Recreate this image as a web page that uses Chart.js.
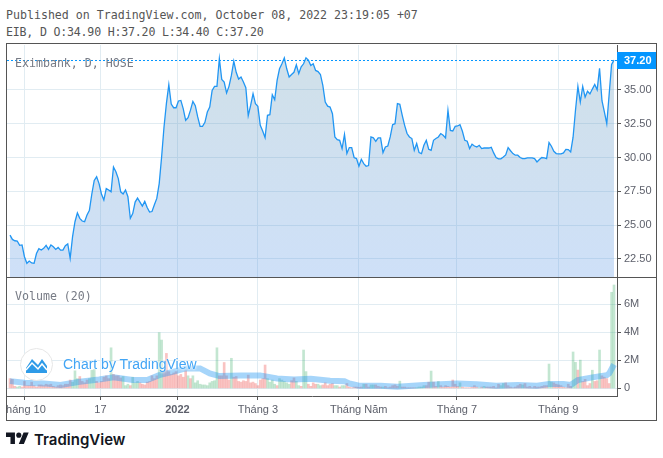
<!DOCTYPE html>
<html>
<head>
<meta charset="utf-8">
<title>EIB</title>
<script src="https://cdn.jsdelivr.net/npm/chart.js@4/dist/chart.umd.min.js"></script>
<style>
    html, body { margin: 0; padding: 0; background: #fff; }
    body { position: relative; width: 663px; height: 458px; overflow: hidden; }
    canvas { position: absolute; left: 7px; top: 44px; }
    .mono { position: absolute; font-family: "DejaVu Sans Mono", monospace; font-size: 11.6px; color: #555; white-space: pre; line-height: 14px; }
    .pane { color: #777b85; }
    #frame { position: absolute; left: 6px; top: 43px; width: 649px; height: 376px; border: 1px solid #555; }
    #attribution { position: absolute; left: 63px; top: 356px; font: 14px "Liberation Sans", sans-serif; color: #42a5f5; text-shadow: 0 0 3px #fff, 0 0 3px #fff; }
    #brand { position: absolute; left: 34px; top: 430px; font: 600 15px Inter, sans-serif; color: #131722; }
    svg { position: absolute; }
</style>
</head>
<body>
<div class="mono" style="left:6px;top:8px">Published on TradingView.com, October 08, 2022 23:19:05 +07</div>
<div class="mono" style="left:6px;top:25px;letter-spacing:-0.2px">EIB, D O:34.90 H:37.20 L:34.40 C:37.20</div>
<canvas id="chart" width="650" height="377"></canvas>
<div id="frame"></div>
<div class="mono pane" style="left:15px;top:56px">Eximbank, D, HOSE</div>
<div class="mono pane" style="left:15px;top:289px">Volume (20)</div>
<svg style="left:20px;top:348px" width="33" height="33" viewBox="0 0 33 33">
    <circle cx="16.5" cy="16.5" r="16" fill="#fff" stroke="#e6e6e6"></circle>
    <path d="M6 25V20L12 11L18 17L22 11L27 18V25Z" fill="#2e9be8"></path>
    <path d="M6 22L12 15L18 21L22 16L27 22" fill="none" stroke="#fff" stroke-width="1.5"></path>
</svg>
<div id="attribution">Chart by TradingView</div>
<svg style="left:6px;top:430px" width="23" height="18" viewBox="0 0 36 28">
    <path d="M14 22H7V11H0V4h14v18zM28 22h-8l7.5-18h8L28 22z" fill="#131722"></path>
    <circle cx="20" cy="8" r="4" fill="#131722"></circle>
</svg>
<div id="brand">TradingView</div>

<script>
const closes = [
    24.26, 23.94, 23.84, 23.82, 23.5, 23.53, 22.66, 22.17, 22.34, 22.2,
    22.17, 22.9, 23.25, 23.15, 23.28, 23.5, 23.2, 23.53, 23.4, 23.2,
    23.35, 23.15, 23.15, 23.47, 23.6, 22.54, 24.14, 25.25, 25.9, 25.5,
    25.3, 25.25, 25.74, 26.1, 27.3, 28.3, 28.57, 28.07, 27.3, 26.85,
    27.7, 27.6, 27.46, 29.3, 28.95, 28.44, 27.46, 27.3, 27.6, 27.1,
    25.5, 25.85, 26.7, 27.0, 26.7, 26.4, 26.75, 26.3, 25.96, 26.0,
    26.5, 26.97, 28.07, 30.04, 32.26, 34.0, 35.38, 33.95, 33.68, 33.68,
    34.18, 34.22, 33.6, 32.75, 32.95, 33.5, 34.15, 33.83, 33.0, 32.3,
    32.3, 32.6, 33.36, 33.73, 34.96, 35.26, 35.26, 37.3, 35.77, 35.58,
    34.77, 35.26, 36.07, 37.13, 36.3, 35.8, 35.95, 35.58, 35.16, 33.1,
    33.85, 34.72, 33.98, 33.78, 32.38, 31.96, 31.47, 33.12, 33.17, 34.64,
    34.27, 35.7, 36.56, 36.93, 37.37, 36.56, 35.95, 36.14, 36.3, 36.86,
    36.2, 36.7, 36.93, 37.37, 37.2, 36.8, 36.93, 36.44, 36.35, 36.14,
    35.33, 34.1, 33.8, 33.73, 33.24, 31.52, 31.32, 31.27, 30.66, 31.7,
    30.3, 30.73, 30.73, 30.0, 29.92, 29.35, 29.87, 29.55, 29.35, 29.4,
    31.52, 31.45, 31.2, 31.45, 31.45, 30.36, 30.78, 30.85, 31.52, 32.43,
    32.5, 33.98, 33.93, 33.12, 32.38, 31.77, 31.52, 31.4, 30.53, 31.03,
    30.36, 30.29, 30.9, 31.27, 30.61, 30.53, 31.27, 31.4, 31.52, 31.77,
    31.64, 31.45, 33.49, 32.0, 31.96, 32.3, 32.33, 32.43, 31.94, 31.27,
    31.2, 30.66, 30.98, 30.85, 30.78, 30.9, 30.66, 30.7, 30.7, 30.7,
    30.75, 30.34, 30.0, 29.9, 29.9, 30.04, 30.19, 30.73, 30.5, 30.29,
    30.17, 30.17, 30.0, 29.92, 29.92, 29.97, 29.97, 29.97, 29.92, 29.67,
    29.85, 30.0, 29.97, 29.92, 31.1, 30.83, 30.46, 30.29, 30.27, 30.27,
    30.34, 30.6, 30.58, 30.41, 31.5, 33.49, 35.26, 34.1, 35.26, 34.47,
    34.9, 34.7, 35.06, 35.4, 35.0, 36.6, 34.2, 33.37, 32.5, 34.7,
    36.88, 37.2
];

// in millions
const volumes = [
    .7, .65, .15, .1, .15, .1, .5, .2, .2, .45,
    .2, .1, .25, .25, .2, .3, .25, .3, .15, .1,
    .2, .25, .2, .3, .3, .6, .45, 1.26, .7, .85,
    .5, .4, .6, .7, 1.3, 1.35, .5, .4, .5, .8,
    .9, .7, 2.9, 1.0, .9, .9, .75, .85, .2, .3,
    .2, .8, .4, .5, .4, .3, .25, .45, .5, .9,
    .7, .9, 3.98, 3.45, 1.2, 2.5, 1.2, 1.0, 1.1, 1.2,
    .9, 1.0, .8, 1.25, .9, .7, .9, .4, .55, .3,
    .25, .25, .2, .4, .5, .55, 2.9, .9, .9, 1.85,
    .9, .6, 2.15, .8, .85, .5, .45, .55, .5, .95,
    .4, .45, .35, .2, .6, .7, 1.67, .7, .45, .6,
    .3, .2, .7, .6, .5, .4, .3, .55, .75, .5,
    .2, .15, 2.74, 1.2, .3, .15, .4, .3, .3, .2,
    .25, .4, .2, .3, .35, .2, .2, .1, .2, .2,
    .35, .1, .05, .1, .1, .08, .1, .3, .3, .1,
    .25, .25, .25, .15, .1, .1, .15, .05, .1, .2,
    .25, .15, .52, .1, .1, .05, .05, .05, .05, .05,
    .1, .1, .2, .2, .45, 1.24, .45, .15, .5, .2,
    .1, .2, .15, .1, .6, .3, .15, .4, .1, .05,
    .05, .05, .1, .2, .1, .05, .1, .15, .1, .1,
    .1, .15, .05, .3, .2, .35, .4, .2, .1, .05,
    .1, .2, .3, .25, .35, .1, .15, .05, .15, .1,
    .1, .15, .2, .2, 1.74, .45, .4, .3, .25, .2,
    .1, .05, .3, .15, 2.6, 1.86, 1.31, 2.02, .5, .65,
    .2, .35, 1.3, .5, .55, 2.74, .9, .8, .7, .35,
    6.86, 7.38
];

// Days whose volume bar is green, all the others are red
const greenDays = [3, 4, 26, 27, 28, 33, 34, 35, 42, 47, 48, 49, 51, 52, 53, 62, 63, 74, 76, 77, 78, 79, 80, 81, 82, 83, 84, 85, 86, 92, 107, 108, 109, 110, 112, 113, 114, 115, 116, 119, 120, 122, 123, 128, 129, 135, 136, 138, 139, 147, 150, 151, 155, 162, 169, 170, 171, 172, 175, 178, 187, 195, 197, 204, 205, 213, 224, 225, 234, 235, 237, 242, 245, 250, 251];

const maDays = [0, 6, 14, 21, 29, 37, 43, 51, 57, 62, 68, 73, 79, 83, 87, 96, 104, 111, 118, 125, 133, 139, 141, 145, 154, 161, 172, 179, 186, 194, 202, 211, 219, 224, 230, 233, 236, 242, 248, 249, 251];
const maValues = [.52, .4, .36, .24, .48, .64, .8, .6, .6, .95, 1.2, 1.43, 1.43, 1.07, .88, .93, .93, .71, .64, .69, .55, .52, .36, .19, .19, .12, .24, .29, .36, .29, .19, .24, .19, .31, .31, .24, .6, .79, .95, 1.07, 1.71];

const timeTickDays = [6, 37.6, 69.6, 103, 144.9, 185.7, 227.8];
const timeTickLabels = ['tháng 10', '17', '2022', 'Tháng 3', 'Tháng Năm', 'Tháng 7', 'Tháng 9'];
const priceTicks = [22.5, 25, 27.5, 30, 32.5, 35];
const volumeTicks = [0, 2, 4, 6];

const gridColor = '#e1ecf2';
const axisColor = '#555';
const labelColor = '#5d606b';
const labelFont = { family: '"Liberation Sans", sans-serif', size: 11 };

// Linea punteada y etiqueta del ultimo precio, mas la division entre paneles
const panePlugin = {
    id: 'panePlugin',
    afterDraw(chart) {
        const ctx = chart.ctx;
        const area = chart.chartArea;
        const price = closes[closes.length - 1];
        const y = Math.round(chart.scales.y.getPixelForValue(price)) + 0.5;

        ctx.save();
        ctx.strokeStyle = axisColor;
        ctx.beginPath();
        ctx.moveTo(0, chart.scales.y.bottom + 0.5);
        ctx.lineTo(chart.width, chart.scales.y.bottom + 0.5);
        ctx.stroke();

        ctx.strokeStyle = '#0496ff';
        ctx.setLineDash([2, 2]);
        ctx.beginPath();
        ctx.moveTo(area.left, y);
        ctx.lineTo(area.right, y);
        ctx.stroke();

        ctx.fillStyle = '#0496ff';
        ctx.fillRect(area.right, y - 8.5, 39, 17);
        ctx.fillStyle = '#fff';
        ctx.font = 'bold 11px "Liberation Sans", sans-serif';
        ctx.textBaseline = 'middle';
        ctx.fillText(price.toFixed(2), area.right + 7, y + 0.5);
        ctx.restore();
    }
};

function areaFill(context) {
    const area = context.chart.chartArea;
    if (!area) return 'transparent';
    const bottom = context.chart.scales.y.bottom;
    const gradient = context.chart.ctx.createLinearGradient(0, 15, 0, bottom);
    gradient.addColorStop(0, 'rgba(87, 144, 176, 0.28)');
    gradient.addColorStop(1, 'rgba(80, 144, 230, 0.28)');
    return gradient;
}

new Chart(document.getElementById('chart').getContext('2d'), {
    data: {
        datasets: [
            {
                type: 'line',
                data: closes.map((v, i) => ({ x: i, y: v })),
                yAxisID: 'y',
                borderColor: '#2196f3',
                borderWidth: 1.3,
                backgroundColor: areaFill,
                fill: 'start',
                pointRadius: 0,
                tension: 0
            },
            {
                type: 'line',
                data: maDays.map((d, i) => ({ x: d, y: maValues[i] })),
                yAxisID: 'yVolume',
                borderColor: 'rgba(33, 150, 243, 0.4)',
                borderWidth: 6,
                pointRadius: 0,
                tension: 0,
                order: 0
            },
            {
                type: 'bar',
                data: volumes.map((v, i) => ({ x: i, y: v })),
                yAxisID: 'yVolume',
                barThickness: 2,
                backgroundColor: volumes.map((v, i) => greenDays.includes(i) ? 'rgba(38, 166, 91, 0.28)' : 'rgba(239, 83, 80, 0.35)'),
                order: 1
            }
        ]
    },
    options: {
        responsive: false,
        animation: false,
        layout: { padding: { top: 1 } },
        plugins: { legend: { display: false }, tooltip: { enabled: false } },
        scales: {
            x: {
                type: 'linear',
                offset: false,
                min: -1.25,
                max: 252.25,
                grid: { offset: false, color: gridColor, tickColor: axisColor, tickLength: 4 },
                border: { color: axisColor },
                afterBuildTicks(axis) { axis.ticks = timeTickDays.map(d => ({ value: d })); },
                afterFit(axis) { axis.height = 25; axis.paddingLeft = 0; axis.paddingRight = 0; },
                ticks: {
                    autoSkip: false,
                    maxRotation: 0,
                    padding: 3,
                    color: labelColor,
                    font: ctx => ctx.index === 2 ? { ...labelFont, weight: 'bold' } : labelFont,
                    callback: (value, index) => timeTickLabels[index]
                }
            },
            y: {
                position: 'right',
                stack: 'panes',
                stackWeight: 232,
                min: 21.16,
                max: 38.32,
                grid: { color: gridColor, tickColor: axisColor, tickLength: 4 },
                border: { color: axisColor },
                afterBuildTicks(axis) { axis.ticks = priceTicks.map(v => ({ value: v })); },
                afterFit(axis) { axis.width = 40; axis.paddingTop = 0; axis.paddingBottom = 0; },
                ticks: { padding: 3, color: labelColor, font: labelFont, callback: v => v.toFixed(2) }
            },
            yVolume: {
                position: 'right',
                stack: 'panes',
                stackWeight: 119,
                min: -0.54,
                max: 7.95,
                grid: { color: gridColor, tickColor: axisColor, tickLength: 4 },
                border: { color: axisColor },
                afterBuildTicks(axis) { axis.ticks = volumeTicks.map(v => ({ value: v })); },
                afterFit(axis) { axis.width = 40; axis.paddingTop = 0; axis.paddingBottom = 0; },
                ticks: { padding: 3, color: labelColor, font: labelFont, callback: v => v === 0 ? '0' : v + 'M' }
            }
        }
    },
    plugins: [panePlugin]
});
</script>
</body>
</html>
